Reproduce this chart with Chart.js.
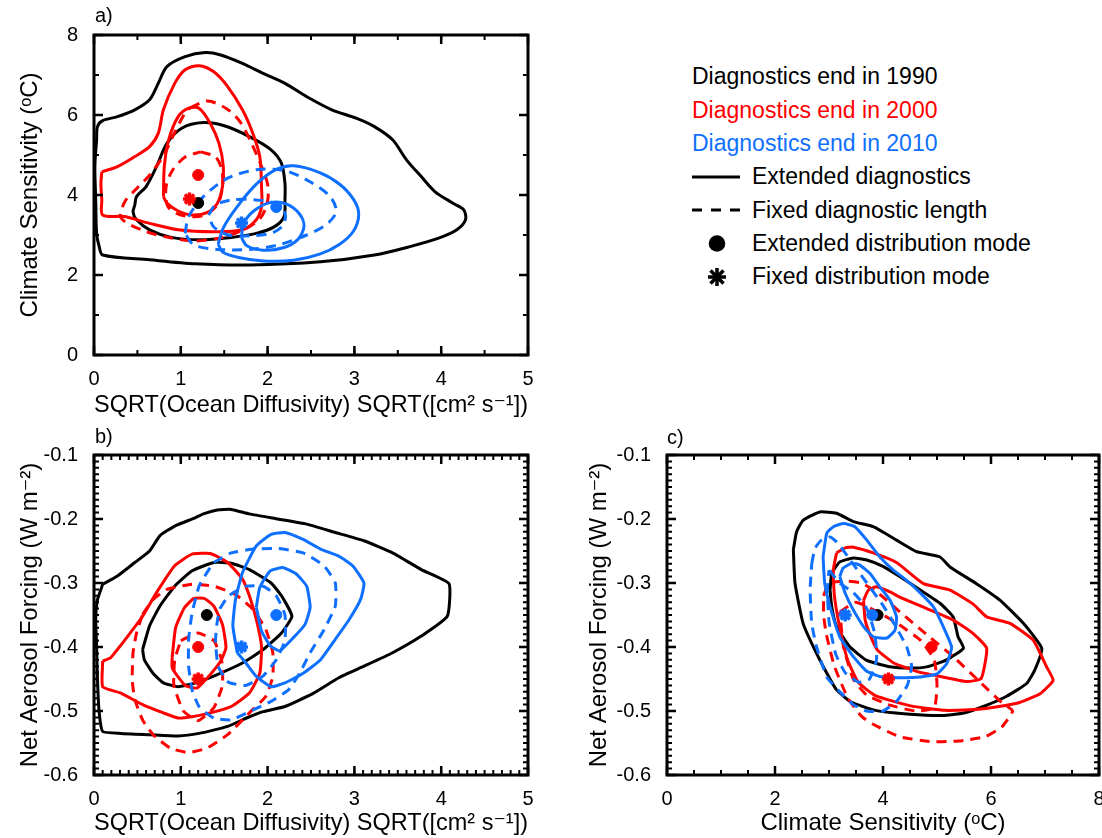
<!DOCTYPE html>
<html>
<head>
<meta charset="utf-8">
<title>Contours of diagnostics end year</title>
<script src="https://cdn.jsdelivr.net/npm/chart.js@4/dist/chart.umd.min.js"></script>
<style>
  html, body { margin: 0; padding: 0; background: #fff; width: 1102px; height: 838px; overflow: hidden; }
  body { position: relative; font-family: 'Liberation Sans', Arial, 'DejaVu Sans', sans-serif; color: #000; }
  .panel { position: absolute; }
  .tag { position: absolute; font-size: 20px; line-height: 20px; }
  .leg { position: absolute; font-size: 23px; line-height: 28px; white-space: nowrap; }
  svg.key { position: absolute; left: 0; top: 0; overflow: visible; }
</style>
</head>
<body>
<div class="panel" style="left:0;top:0;width:560px;height:420px"><canvas id="chartA" width="560" height="420"></canvas></div>
<div class="panel" style="left:0;top:420px;width:560px;height:418px"><canvas id="chartB" width="560" height="418"></canvas></div>
<div class="panel" style="left:560px;top:420px;width:560px;height:418px"><canvas id="chartC" width="560" height="418"></canvas></div>

<div class="tag" style="left:95px;top:5px">a)</div>
<div class="tag" style="left:95px;top:426px">b)</div>
<div class="tag" style="left:667px;top:427px">c)</div>

<div class="leg" style="left:692px;top:62px;color:#000">Diagnostics end in 1990</div>
<div class="leg" style="left:692px;top:96px;color:#ff0000">Diagnostics end in 2000</div>
<div class="leg" style="left:692px;top:129px;color:#0f70ff">Diagnostics end in 2010</div>
<div class="leg" style="left:752px;top:162px">Extended diagnostics</div>
<div class="leg" style="left:752px;top:196px">Fixed diagnostic length</div>
<div class="leg" style="left:752px;top:229px">Extended distribution mode</div>
<div class="leg" style="left:752px;top:262px">Fixed distribution mode</div>
<svg class="key" width="1102" height="300">
  <line x1="692" y1="177" x2="740" y2="177" stroke="#000" stroke-width="3"/>
  <line x1="692" y1="210" x2="740" y2="210" stroke="#000" stroke-width="3" stroke-dasharray="10,9"/>
  <circle cx="717" cy="243.5" r="8.3" fill="#000"/>
  <g stroke="#000" stroke-width="3.5" transform="translate(717,277)">
    <line x1="-9" y1="0" x2="9" y2="0"/>
    <line x1="0" y1="-9" x2="0" y2="9"/>
    <line x1="-6.5" y1="-6.5" x2="6.5" y2="6.5"/>
    <line x1="-6.5" y1="6.5" x2="6.5" y2="-6.5"/>
  </g>
</svg>

<script>
// ---- Panel a: ocean diffusivity (sqrt) vs climate sensitivity ----
const aXTicks = [0, 1, 2, 3, 4, 5];
const aYTicks = [0, 2, 4, 6, 8];
const aBlackOuter = [[0.03,5.38],[0.04,5.71],[0.10,5.86],[0.27,5.96],[0.47,6.13],[0.64,6.38],[0.74,6.79],[0.84,7.21],[1.05,7.46],[1.28,7.56],[1.46,7.50],[1.71,7.29],[1.95,7.04],[2.20,6.79],[2.45,6.46],[2.74,6.13],[3.02,5.92],[3.23,5.71],[3.44,5.38],[3.60,4.88],[3.77,4.46],[3.93,4.08],[4.14,3.79],[4.26,3.63],[4.28,3.38],[4.18,3.13],[3.97,2.92],[3.64,2.71],[3.23,2.50],[2.61,2.33],[1.79,2.25],[1.17,2.28],[0.64,2.38],[0.10,2.50],[0.06,2.71],[0.03,3.04],[0.02,3.88],[0.01,4.71]];
const aBlackInner = [[0.47,3.75],[0.49,3.96],[0.60,4.21],[0.72,4.71],[0.84,5.29],[1.01,5.67],[1.26,5.81],[1.50,5.73],[1.79,5.46],[2.04,5.13],[2.16,4.79],[2.20,4.29],[2.20,3.88],[2.19,3.46],[2.08,3.21],[1.87,3.04],[1.58,2.94],[1.21,2.88],[0.89,2.94],[0.64,3.13],[0.49,3.38],[0.45,3.58]];
const aRedOuter = [[0.09,4.58],[0.27,4.71],[0.47,4.96],[0.64,5.21],[0.74,5.54],[0.80,6.13],[0.93,6.79],[1.05,7.13],[1.21,7.23],[1.38,7.08],[1.54,6.71],[1.71,6.13],[1.83,5.54],[1.91,4.96],[1.93,4.21],[1.93,3.71],[1.87,3.38],[1.71,3.13],[1.38,3.08],[0.97,3.13],[0.64,3.29],[0.35,3.46],[0.10,3.50],[0.09,3.88],[0.08,4.29]];
const aRedInner = [[0.80,3.96],[0.81,4.71],[0.86,5.38],[0.97,5.96],[1.09,6.17],[1.21,6.17],[1.34,5.79],[1.44,5.29],[1.49,4.71],[1.48,4.21],[1.42,3.79],[1.30,3.56],[1.13,3.50],[0.97,3.60],[0.84,3.80]];
const aRedDashOuter = [[1.11,6.18],[1.31,6.35],[1.54,6.14],[1.69,5.81],[1.82,5.27],[1.92,4.77],[2.00,4.27],[2.00,3.85],[1.92,3.43],[1.73,3.14],[1.46,2.93],[1.15,2.85],[0.88,2.93],[0.58,3.10],[0.31,3.43],[0.36,3.85],[0.50,4.18],[0.65,4.52],[0.81,5.02],[0.92,5.52],[1.04,6.02]];
const aRedDashInner = [[1.23,5.08],[1.40,4.95],[1.47,4.65],[1.48,4.20],[1.42,3.75],[1.25,3.48],[1.00,3.50],[0.85,3.72],[0.83,4.20],[0.90,4.60],[1.05,4.95]];
const aBlueOuter = [[1.43,2.77],[1.49,3.18],[1.64,3.68],[1.87,4.27],[2.10,4.64],[2.30,4.73],[2.60,4.56],[2.83,4.27],[2.99,3.89],[3.05,3.52],[2.99,3.10],[2.83,2.77],[2.60,2.52],[2.30,2.37],[1.95,2.35],[1.68,2.43],[1.49,2.56]];
const aBlueInner = [[1.70,2.93],[1.72,3.27],[1.84,3.60],[2.03,3.81],[2.22,3.77],[2.37,3.52],[2.42,3.22],[2.35,2.89],[2.18,2.68],[1.95,2.62],[1.76,2.73]];
const aBlueDashOuter = [[1.05,3.04],[1.09,3.46],[1.26,3.96],[1.54,4.42],[1.87,4.63],[2.20,4.61],[2.49,4.33],[2.72,3.96],[2.79,3.58],[2.67,3.25],[2.45,3.00],[2.12,2.75],[1.79,2.64],[1.42,2.64],[1.15,2.75]];
const aBlueDashInner = [[1.32,3.50],[1.40,3.75],[1.60,3.88],[1.85,3.88],[2.07,3.80],[2.20,3.55],[2.18,3.25],[2.05,3.05],[1.80,2.98],[1.55,3.00],[1.38,3.20]];
const aModes = { black: [1.2, 3.8], red: [1.2, 4.5], redFixed: [1.1, 3.9], blue: [2.1, 3.7], blueFixed: [1.7, 3.3] };

// ---- Panel b: ocean diffusivity (sqrt) vs net aerosol forcing ----
const bXTicks = [0, 1, 2, 3, 4, 5];
const bYTicks = [-0.6, -0.5, -0.4, -0.3, -0.2, -0.1];
const bBlackOuter = [[0.10,-0.302],[0.27,-0.289],[0.47,-0.268],[0.64,-0.250],[0.76,-0.226],[0.93,-0.211],[1.15,-0.199],[1.26,-0.192],[1.42,-0.186],[1.58,-0.185],[1.79,-0.192],[2.12,-0.200],[2.45,-0.208],[2.78,-0.221],[3.11,-0.234],[3.44,-0.253],[3.77,-0.279],[4.09,-0.301],[4.07,-0.352],[3.77,-0.383],[3.44,-0.409],[3.11,-0.430],[2.82,-0.448],[2.53,-0.472],[2.20,-0.493],[1.95,-0.501],[1.79,-0.509],[1.54,-0.524],[1.21,-0.535],[0.97,-0.539],[0.64,-0.537],[0.31,-0.535],[0.10,-0.532],[0.06,-0.503],[0.04,-0.451],[0.03,-0.399],[0.02,-0.357],[0.04,-0.326]];
const bBlackInner = [[0.56,-0.404],[0.64,-0.367],[0.76,-0.336],[0.93,-0.305],[1.13,-0.281],[1.38,-0.268],[1.58,-0.269],[1.79,-0.279],[2.04,-0.300],[2.16,-0.320],[2.28,-0.352],[2.16,-0.378],[1.95,-0.404],[1.71,-0.425],[1.42,-0.443],[1.17,-0.456],[0.97,-0.462],[0.80,-0.456],[0.68,-0.441],[0.58,-0.420]];
const bRedOuter = [[0.10,-0.422],[0.19,-0.417],[0.27,-0.404],[0.39,-0.383],[0.56,-0.352],[0.72,-0.315],[0.93,-0.273],[1.13,-0.255],[1.34,-0.254],[1.54,-0.268],[1.71,-0.294],[1.79,-0.320],[1.87,-0.357],[1.93,-0.399],[1.91,-0.441],[1.79,-0.472],[1.58,-0.493],[1.34,-0.503],[1.13,-0.509],[0.97,-0.511],[0.80,-0.503],[0.56,-0.490],[0.31,-0.472],[0.10,-0.462]];
const bRedInner = [[0.90,-0.417],[0.94,-0.370],[1.04,-0.339],[1.15,-0.324],[1.27,-0.324],[1.38,-0.336],[1.48,-0.365],[1.52,-0.401],[1.46,-0.422],[1.34,-0.443],[1.19,-0.464],[1.06,-0.461],[0.96,-0.445],[0.90,-0.432]];
const bRedDashOuter = [[0.56,-0.349],[0.68,-0.326],[0.84,-0.310],[1.13,-0.302],[1.38,-0.305],[1.63,-0.318],[1.83,-0.341],[1.98,-0.373],[2.06,-0.409],[2.06,-0.446],[1.98,-0.477],[1.79,-0.503],[1.54,-0.537],[1.30,-0.558],[1.09,-0.565],[0.88,-0.558],[0.68,-0.537],[0.56,-0.514],[0.47,-0.482],[0.44,-0.451],[0.45,-0.409],[0.49,-0.378]];
const bRedDashInner = [[1.00,-0.390],[1.20,-0.378],[1.38,-0.390],[1.47,-0.420],[1.48,-0.460],[1.38,-0.495],[1.20,-0.515],[1.03,-0.500],[0.92,-0.460],[0.93,-0.420]];
const bBlueOuter = [[1.65,-0.409],[1.60,-0.367],[1.63,-0.326],[1.71,-0.284],[1.87,-0.242],[2.04,-0.224],[2.20,-0.221],[2.41,-0.232],[2.61,-0.247],[2.82,-0.258],[2.98,-0.273],[3.11,-0.300],[3.07,-0.326],[2.94,-0.357],[2.78,-0.388],[2.61,-0.420],[2.41,-0.441],[2.20,-0.456],[2.04,-0.462],[1.87,-0.446],[1.75,-0.425]];
const bBlueInner = [[1.87,-0.338],[1.91,-0.307],[2.03,-0.281],[2.18,-0.276],[2.33,-0.286],[2.45,-0.305],[2.49,-0.338],[2.43,-0.365],[2.30,-0.385],[2.14,-0.406],[2.03,-0.398],[1.93,-0.375]];
const bBlueDashOuter = [[1.38,-0.268],[1.58,-0.253],[1.83,-0.247],[2.12,-0.246],[2.41,-0.253],[2.65,-0.273],[2.78,-0.300],[2.78,-0.336],[2.65,-0.373],[2.49,-0.409],[2.37,-0.441],[2.24,-0.467],[2.04,-0.485],[1.79,-0.501],[1.58,-0.514],[1.38,-0.511],[1.21,-0.493],[1.13,-0.467],[1.09,-0.430],[1.09,-0.388],[1.13,-0.347],[1.21,-0.305],[1.30,-0.284]];
const bBlueDashInner = [[1.45,-0.340],[1.55,-0.320],[1.75,-0.305],[1.95,-0.305],[2.10,-0.320],[2.20,-0.350],[2.20,-0.390],[2.10,-0.420],[1.95,-0.445],[1.75,-0.460],[1.55,-0.455],[1.43,-0.430],[1.40,-0.390],[1.42,-0.360]];
const bModes = { black: [1.3, -0.35], red: [1.2, -0.4], redFixed: [1.2, -0.45], blue: [2.1, -0.35], blueFixed: [1.7, -0.4] };

// ---- Panel c: climate sensitivity vs net aerosol forcing ----
const cXTicks = [0, 2, 4, 6, 8];
const cYTicks = [-0.6, -0.5, -0.4, -0.3, -0.2, -0.1];
const cBlackOuter = [[2.34,-0.248],[2.40,-0.220],[2.52,-0.202],[2.83,-0.189],[3.14,-0.191],[3.45,-0.204],[3.82,-0.212],[4.25,-0.233],[4.62,-0.251],[5.05,-0.259],[5.24,-0.275],[5.73,-0.301],[6.17,-0.327],[6.60,-0.363],[6.94,-0.402],[6.81,-0.436],[6.66,-0.457],[6.29,-0.477],[5.86,-0.493],[5.50,-0.503],[5.10,-0.507],[4.50,-0.505],[3.86,-0.499],[3.41,-0.486],[3.14,-0.467],[2.96,-0.441],[2.74,-0.405],[2.52,-0.363],[2.37,-0.300]];
const cBlackInner = [[3.02,-0.311],[3.05,-0.285],[3.20,-0.267],[3.45,-0.261],[3.70,-0.264],[4.00,-0.274],[4.31,-0.290],[4.69,-0.311],[5.06,-0.332],[5.30,-0.353],[5.39,-0.384],[5.49,-0.402],[5.18,-0.420],[4.81,-0.431],[4.50,-0.433],[4.13,-0.431],[3.70,-0.421],[3.39,-0.400],[3.14,-0.368],[3.05,-0.337]];
const cRedOuter = [[3.14,-0.253],[3.30,-0.245],[3.45,-0.244],[3.82,-0.253],[4.25,-0.268],[4.75,-0.301],[5.24,-0.311],[5.67,-0.333],[5.92,-0.353],[6.35,-0.363],[6.78,-0.389],[7.03,-0.431],[7.15,-0.452],[6.91,-0.473],[6.48,-0.488],[5.81,-0.497],[5.16,-0.499],[4.51,-0.492],[3.86,-0.476],[3.54,-0.455],[3.34,-0.419],[3.20,-0.370],[3.10,-0.320],[3.08,-0.280]];
const cRedInner = [[3.64,-0.327],[3.73,-0.311],[3.88,-0.306],[4.13,-0.314],[4.31,-0.322],[4.81,-0.340],[5.30,-0.358],[5.67,-0.379],[5.92,-0.402],[5.82,-0.449],[5.55,-0.454],[5.06,-0.446],[4.62,-0.438],[4.20,-0.425],[3.90,-0.405],[3.78,-0.385],[3.67,-0.358]];
const cRedDashOuter = [[2.90,-0.320],[3.00,-0.300],[3.30,-0.297],[3.60,-0.300],[3.90,-0.315],[4.31,-0.345],[4.80,-0.380],[5.30,-0.415],[5.80,-0.455],[6.20,-0.487],[6.40,-0.500],[6.20,-0.525],[5.90,-0.540],[5.40,-0.547],[4.90,-0.548],[4.30,-0.540],[3.80,-0.520],[3.60,-0.508],[3.35,-0.480],[3.10,-0.430],[2.95,-0.380],[2.90,-0.350]];
const cRedDashInner = [[3.20,-0.345],[3.50,-0.330],[3.90,-0.345],[4.30,-0.365],[4.70,-0.390],[4.95,-0.420],[5.00,-0.460],[4.95,-0.495],[4.60,-0.500],[4.10,-0.490],[3.70,-0.475],[3.45,-0.450],[3.27,-0.400]];
const cBlueOuter = [[2.89,-0.259],[2.96,-0.222],[3.08,-0.212],[3.27,-0.207],[3.48,-0.212],[3.70,-0.233],[3.94,-0.259],[4.19,-0.280],[4.35,-0.290],[4.56,-0.305],[4.93,-0.337],[5.12,-0.369],[5.27,-0.400],[5.18,-0.426],[5.00,-0.442],[4.69,-0.447],[4.31,-0.448],[3.94,-0.446],[3.70,-0.438],[3.45,-0.415],[3.20,-0.384],[3.02,-0.337],[2.92,-0.300]];
const cBlueInner = [[3.20,-0.290],[3.26,-0.277],[3.42,-0.269],[3.57,-0.272],[3.76,-0.285],[3.94,-0.306],[4.13,-0.327],[4.25,-0.353],[4.22,-0.374],[4.07,-0.386],[3.82,-0.384],[3.64,-0.368],[3.45,-0.342],[3.30,-0.316]];
const cBlueDashOuter = [[2.68,-0.270],[2.74,-0.246],[2.86,-0.233],[3.02,-0.228],[3.17,-0.238],[3.40,-0.265],[3.70,-0.300],[4.00,-0.335],[4.25,-0.370],[4.44,-0.400],[4.53,-0.430],[4.45,-0.460],[4.25,-0.485],[4.00,-0.500],[3.70,-0.500],[3.45,-0.490],[3.20,-0.470],[2.96,-0.447],[2.77,-0.400],[2.68,-0.363],[2.65,-0.311]];
const cBlueDashInner = [[3.00,-0.280],[3.20,-0.300],[3.45,-0.315],[3.70,-0.340],[3.85,-0.380],[3.88,-0.420],[3.75,-0.450],[3.55,-0.455],[3.30,-0.440],[3.12,-0.410],[3.00,-0.360],[2.97,-0.310]];
const cModes = { black: [3.9, -0.35], red: [4.9, -0.4], redFixed: [4.1, -0.45], blue: [3.8, -0.35], blueFixed: [3.3, -0.35] };

// ---- styling ----
const FONT = "'Liberation Sans', Arial, 'DejaVu Sans', sans-serif";
const BLACK = '#000000', RED = '#ff0000', BLUE = '#0f70ff';

// Inward tick marks on all four sides plus a heavy frame, drawn from the chart's own scales.
const innerTicks = {
  id: 'innerTicks',
  afterDatasetsDraw(chart, _args, opts) {
    const { ctx, chartArea: a, scales } = chart;
    const xs = scales.x, ys = scales.y;
    const steps = (scale, step) => {
      const n = Math.round((scale.max - scale.min) / step);
      const out = [];
      for (let i = 0; i <= n; i++) out.push(scale.min + i * step);
      return out;
    };
    const mark = (scale, values, len, horizontal) => {
      ctx.beginPath();
      values.forEach(v => {
        const p = scale.getPixelForValue(v);
        if (horizontal) {
          ctx.moveTo(p, a.bottom); ctx.lineTo(p, a.bottom - len);
          ctx.moveTo(p, a.top); ctx.lineTo(p, a.top + len);
        } else {
          ctx.moveTo(a.left, p); ctx.lineTo(a.left + len, p);
          ctx.moveTo(a.right, p); ctx.lineTo(a.right - len, p);
        }
      });
      ctx.stroke();
    };
    ctx.save();
    ctx.strokeStyle = '#000';
    ctx.lineWidth = 2;
    mark(xs, steps(xs, opts.xMinor), opts.minorLen, true);
    mark(ys, steps(ys, opts.yMinor), opts.minorLen, false);
    ctx.lineWidth = 2.5;
    mark(xs, xs.ticks.map(t => t.value), opts.majorLen, true);
    mark(ys, ys.ticks.map(t => t.value), opts.majorLen, false);
    ctx.lineWidth = 3;
    ctx.strokeRect(a.left, a.top, a.width, a.height);
    ctx.restore();
  }
};
Chart.register(innerTicks);

const toPoints = arr => arr.map(([x, y]) => ({ x, y }));
const closed = arr => toPoints(arr.concat([arr[0]]));

function contour(arr, color, dashed, order, tension) {
  return {
    data: closed(arr), showLine: true, borderColor: color, borderWidth: 3,
    borderDash: dashed ? [10, 7] : [], pointRadius: 0, fill: false,
    tension, order, borderCapStyle: 'butt', borderJoinStyle: 'round'
  };
}
function modePoint(pt, color, fixed) {
  return {
    data: toPoints([pt]), showLine: false,
    pointStyle: fixed ? 'star' : 'circle',
    pointRadius: fixed ? 6.5 : 5.5, pointBorderWidth: fixed ? 3.5 : 1,
    pointBackgroundColor: color, pointBorderColor: color, order: 0
  };
}
function panelDatasets(set, tension) {
  return [
    modePoint(set.modes.blueFixed, BLUE, true),
    modePoint(set.modes.redFixed, RED, true),
    modePoint(set.modes.blue, BLUE, false),
    modePoint(set.modes.red, RED, false),
    modePoint(set.modes.black, BLACK, false),
    contour(set.blueInner, BLUE, false, 1, tension),
    contour(set.blueOuter, BLUE, false, 1, tension),
    contour(set.blueDashInner, BLUE, true, 1, tension),
    contour(set.blueDashOuter, BLUE, true, 1, tension),
    contour(set.redInner, RED, false, 2, tension),
    contour(set.redOuter, RED, false, 2, tension),
    contour(set.redDashInner, RED, true, 2, tension),
    contour(set.redDashOuter, RED, true, 2, tension),
    contour(set.blackInner, BLACK, false, 3, tension),
    contour(set.blackOuter, BLACK, false, 3, tension)
  ];
}

function makeChart(id, cfg) {
  return new Chart(document.getElementById(id), {
    type: 'scatter',
    data: { datasets: cfg.datasets },
    options: {
      responsive: false, animation: false, events: [],
      layout: { padding: { top: cfg.padTop, right: cfg.padRight, left: 0, bottom: 0 } },
      plugins: { legend: { display: false }, tooltip: { enabled: false }, innerTicks: cfg.ticks },
      scales: {
        x: {
          type: 'linear', min: cfg.xMin, max: cfg.xMax,
          afterBuildTicks: s => { s.ticks = cfg.xTicks.map(v => ({ value: v })); },
          afterFit: s => { s.height = cfg.xAxisH; },
          grid: { display: false }, border: { display: false },
          ticks: { color: '#000', font: { size: 20, family: FONT }, padding: 4, maxRotation: 0, autoSkip: false, callback: cfg.xFmt },
          title: { display: true, text: cfg.xTitle, color: '#000', font: { size: 24, family: FONT }, padding: { top: 0, bottom: cfg.xTitlePad } }
        },
        y: {
          type: 'linear', min: cfg.yMin, max: cfg.yMax,
          afterBuildTicks: s => { s.ticks = cfg.yTicks.map(v => ({ value: v })); },
          afterFit: s => { s.width = cfg.yAxisW; },
          grid: { display: false }, border: { display: false },
          ticks: { color: '#000', font: { size: 20, family: FONT }, padding: 8, autoSkip: false, callback: cfg.yFmt },
          title: { display: true, text: cfg.yTitle, color: '#000', font: { size: 24, family: FONT }, padding: { top: cfg.yTitlePad, bottom: 0 } }
        }
      }
    }
  });
}

const intFmt = v => String(Math.round(v));
const oneDec = v => v.toFixed(1);
const diffTitle = 'SQRT(Ocean Diffusivity) SQRT([cm\u00B2 s\u207B\u00B9])';
const forcingTitle = 'Net Aerosol Forcing (W m\u207B\u00B2)';
const sensTitle = 'Climate Sensitivity (\u1D52C)';

makeChart('chartA', {
  datasets: panelDatasets({
    modes: aModes, blackOuter: aBlackOuter, blackInner: aBlackInner,
    redOuter: aRedOuter, redInner: aRedInner, redDashOuter: aRedDashOuter, redDashInner: aRedDashInner,
    blueOuter: aBlueOuter, blueInner: aBlueInner, blueDashOuter: aBlueDashOuter, blueDashInner: aBlueDashInner
  }, 0.3),
  padTop: 35, padRight: 32, xAxisH: 65, yAxisW: 94,
  xMin: 0, xMax: 5, yMin: 0, yMax: 8, xTicks: aXTicks, yTicks: aYTicks,
  xFmt: intFmt, yFmt: intFmt, xTitle: diffTitle, yTitle: sensTitle, xTitlePad: 0, yTitlePad: 16,
  ticks: { xMinor: 0.5, yMinor: 1, minorLen: 5, majorLen: 9 }
});

makeChart('chartB', {
  datasets: panelDatasets({
    modes: bModes, blackOuter: bBlackOuter, blackInner: bBlackInner,
    redOuter: bRedOuter, redInner: bRedInner, redDashOuter: bRedDashOuter, redDashInner: bRedDashInner,
    blueOuter: bBlueOuter, blueInner: bBlueInner, blueDashOuter: bBlueDashOuter, blueDashInner: bBlueDashInner
  }, 0.15),
  padTop: 35, padRight: 32, xAxisH: 63, yAxisW: 94,
  xMin: 0, xMax: 5, yMin: -0.6, yMax: -0.1, xTicks: bXTicks, yTicks: bYTicks,
  xFmt: intFmt, yFmt: oneDec, xTitle: diffTitle, yTitle: forcingTitle, xTitlePad: 0, yTitlePad: 16,
  ticks: { xMinor: 0.1, yMinor: 0.01, minorLen: 5, majorLen: 9 }
});

makeChart('chartC', {
  datasets: panelDatasets({
    modes: cModes, blackOuter: cBlackOuter, blackInner: cBlackInner,
    redOuter: cRedOuter, redInner: cRedInner, redDashOuter: cRedDashOuter, redDashInner: cRedDashInner,
    blueOuter: cBlueOuter, blueInner: cBlueInner, blueDashOuter: cBlueDashOuter, blueDashInner: cBlueDashInner
  }, 0.15),
  padTop: 35, padRight: 21, xAxisH: 63, yAxisW: 107,
  xMin: 0, xMax: 8, yMin: -0.6, yMax: -0.1, xTicks: cXTicks, yTicks: cYTicks,
  xFmt: intFmt, yFmt: oneDec, xTitle: sensTitle, yTitle: forcingTitle, xTitlePad: 0, yTitlePad: 25,
  ticks: { xMinor: 0.5, yMinor: 0.01, minorLen: 5, majorLen: 9 }
});
</script>
</body>
</html>
